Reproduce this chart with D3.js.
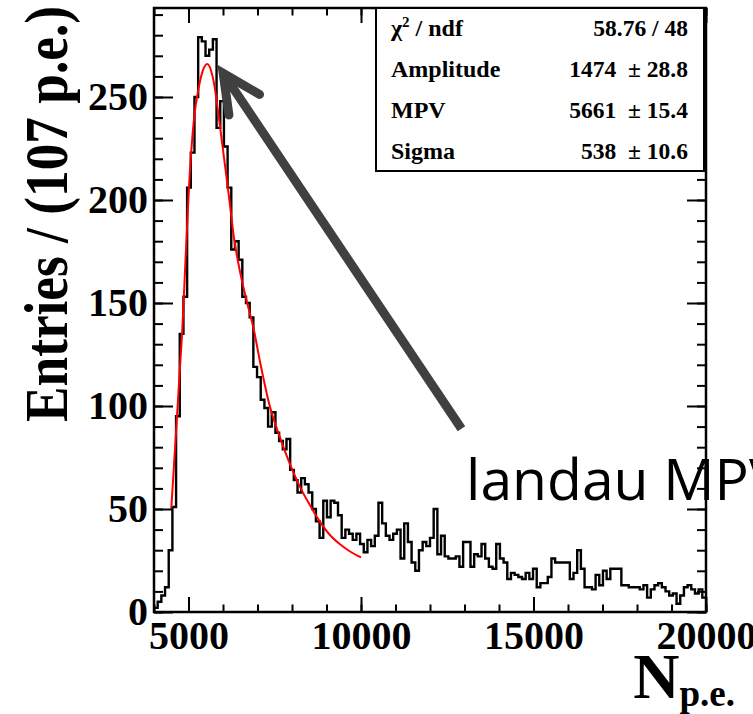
<!DOCTYPE html>
<html>
<head>
<meta charset="utf-8">
<script src="https://cdnjs.cloudflare.com/ajax/libs/d3/7.8.5/d3.min.js"></script>
<style>
  body { margin: 0; background: #fff; }
  svg { display: block; }
  .serif { font-family: "Liberation Serif", "Times New Roman", serif; font-weight: bold; }
</style>
</head>
<body>
<svg id="chart" width="753" height="714"></svg>
<script>
// histogram: 150 bins from 4000 to 20000 p.e.
const xMin = 4000, xMax = 20000;
const counts = [
    2, 5, 8, 12, 30, 51, 95, 135, 153, 206,
    223, 250, 279, 277, 270, 273, 278, 235, 248, 226,
    206, 176, 180, 171, 153, 150, 143, 119, 114, 103,
    99, 90, 97, 87, 83, 79, 84, 69, 64, 58,
    65, 62, 58, 50, 44, 36, 54, 46, 54, 53,
    47, 36, 40, 38, 35, 38, 33, 29, 35, 32,
    37, 53, 43, 37, 35, 38, 40, 26, 43, 34,
    24, 20, 30, 34, 32, 36, 50, 28, 37, 27,
    26, 26, 27, 22, 34, 34, 22, 28, 27, 33,
    26, 22, 21, 33, 26, 24, 16, 19, 18, 17,
    16, 19, 16, 21, 12, 14, 14, 17, 26, 24,
    24, 24, 24, 16, 19, 30, 21, 12, 12, 11,
    18, 13, 20, 16, 21, 21, 21, 13, 13, 12,
    12, 12, 11, 13, 7, 11, 13, 14, 12, 10,
    8, 9, 4, 8, 12, 13, 11, 9, 11, 7
];

// landau fit curve
const fitX = [4500, 4630, 4750, 4820, 4900, 5013, 5157, 5302, 5420, 5543, 5650, 5736, 5881, 6025, 6170,
              6315, 6508, 6701, 6894, 7067, 7356, 7646, 7935, 8224, 8514, 8803, 9093, 9382, 9671, 10000];
const fitY = [50, 85, 118, 137, 166, 206, 239, 255, 263, 266, 263, 257, 240, 221, 202,
              182, 164, 150, 137, 122, 100, 85, 72, 61, 52, 44, 37.5, 33, 29.5, 26.5];

const xTicks = [5000, 10000, 15000, 20000];
const yTicks = [0, 50, 100, 150, 200, 250];

const statNames = ["Amplitude", "MPV", "Sigma"];
const statValues = ["1474", "5661", "538"];
const statErrors = ["28.8", "15.4", "10.6"];
const chi2 = "58.76 / 48";

// annotation arrow (data units): tail -> tip
const arrowTail = [12912, 89];
const arrowTip = [6005, 261.5];

const frame = {left: 154, right: 706, top: 8, bottom: 612};

const svg = d3.select("#chart");

const x = d3.scaleLinear()
    .domain([xMin, xMax])
    .range([frame.left, frame.right]);

const y = d3.scaleLinear()
    .domain([0, 293.2])
    .range([frame.bottom, frame.top]);

// histogram outline
const binW = (xMax - xMin) / counts.length;
const steps = counts.map((c, i) => [xMin + i * binW, c]);
steps.push([xMax, counts[counts.length - 1]]);

svg.append("path")
    .datum(steps)
    .attr("fill", "none")
    .attr("stroke", "black")
    .attr("stroke-width", 2.4)
    .attr("d", d3.line()
        .x(d => x(d[0]))
        .y(d => y(d[1]))
        .curve(d3.curveStepAfter));

// fit
svg.append("path")
    .datum(fitX.map((v, i) => [v, fitY[i]]))
    .attr("fill", "none")
    .attr("stroke", "#ff0000")
    .attr("stroke-width", 2)
    .attr("d", d3.line()
        .x(d => x(d[0]))
        .y(d => y(d[1]))
        .curve(d3.curveMonotoneX));

// axes, ROOT style: ticks inward on all four sides
const xMinor = d3.range(xMin, xMax + 1, 1000);
const yMinor = d3.range(0, 291, 10);

function noLabels(g) { g.selectAll("text").remove(); g.select(".domain").remove(); }

svg.append("g")
    .attr("transform", `translate(0,${frame.bottom})`)
    .call(d3.axisBottom(x).tickValues(xMinor).tickSize(-7.5).tickFormat(""))
    .call(noLabels);
svg.append("g")
    .attr("transform", `translate(0,${frame.bottom})`)
    .call(d3.axisBottom(x).tickValues(xTicks).tickSize(-15).tickPadding(9).tickFormat(d3.format("d")))
    .call(g => g.select(".domain").remove())
    .call(g => g.selectAll("text").attr("class", "serif").attr("font-size", 40).attr("fill", "black"));

svg.append("g")
    .attr("transform", `translate(0,${frame.top})`)
    .call(d3.axisTop(x).tickValues(xMinor).tickSize(-7.5).tickFormat(""))
    .call(noLabels);
svg.append("g")
    .attr("transform", `translate(0,${frame.top})`)
    .call(d3.axisTop(x).tickValues(xTicks).tickSize(-15).tickFormat(""))
    .call(noLabels);

svg.append("g")
    .attr("transform", `translate(${frame.left},0)`)
    .call(d3.axisLeft(y).tickValues(yMinor).tickSize(-9).tickFormat(""))
    .call(noLabels);
svg.append("g")
    .attr("transform", `translate(${frame.left},0)`)
    .call(d3.axisLeft(y).tickValues(yTicks).tickSize(-19).tickPadding(6).tickFormat(d3.format("d")))
    .call(g => g.select(".domain").remove())
    .call(g => g.selectAll("text").attr("class", "serif").attr("font-size", 40).attr("fill", "black"));

svg.append("g")
    .attr("transform", `translate(${frame.right},0)`)
    .call(d3.axisRight(y).tickValues(yMinor).tickSize(-9).tickFormat(""))
    .call(noLabels);
svg.append("g")
    .attr("transform", `translate(${frame.right},0)`)
    .call(d3.axisRight(y).tickValues(yTicks).tickSize(-19).tickFormat(""))
    .call(noLabels);

svg.selectAll(".tick line").attr("stroke", "black").attr("stroke-width", 2);

svg.append("rect")
    .attr("x", frame.left)
    .attr("y", frame.top)
    .attr("width", frame.right - frame.left)
    .attr("height", frame.bottom - frame.top)
    .attr("fill", "none")
    .attr("stroke", "black")
    .attr("stroke-width", 2.5);

// axis titles
svg.append("text")
    .attr("class", "serif")
    .attr("font-size", 62)
    .attr("text-anchor", "end")
    .attr("transform", "translate(67,6) rotate(-90) scale(0.86,1)")
    .text("Entries / (107 p.e.)");

const xt = svg.append("text")
    .attr("class", "serif")
    .attr("text-anchor", "end")
    .attr("x", 735)
    .attr("y", 698);
xt.append("tspan").attr("font-size", 64).text("N");
xt.append("tspan").attr("font-size", 37).attr("dy", 8).text("p.e.");

// stats box
const box = {left: 376, right: 704, top: frame.top, bottom: 171};
const rowH = (box.bottom - box.top) / 4;

svg.append("rect")
    .attr("x", box.left)
    .attr("y", box.top)
    .attr("width", box.right - box.left)
    .attr("height", box.bottom - box.top)
    .attr("fill", "white")
    .attr("stroke", "black")
    .attr("stroke-width", 2);

const rows = [{name: null, value: chi2}].concat(
    statNames.map((n, i) => ({name: n, value: `${statValues[i]}  ± ${statErrors[i]}`})));

rows.forEach((r, i) => {
    const base = box.top + rowH * (i + 0.5) + 8;
    const lab = svg.append("text")
        .attr("class", "serif")
        .attr("font-size", 24)
        .attr("x", 391)
        .attr("y", base);
    if (r.name === null) {
        lab.append("tspan").text("χ");
        lab.append("tspan").attr("font-size", 15).attr("dy", -9).text("2");
        lab.append("tspan").attr("dy", 9).text(" / ndf");
    } else {
        lab.text(r.name);
    }
    svg.append("text")
        .attr("class", "serif")
        .attr("font-size", 23.5)
        .attr("text-anchor", "end")
        .attr("x", 688)
        .attr("y", base)
        .style("white-space", "pre")
        .text(r.value);
});

// annotation
const tip = [x(arrowTip[0]), y(arrowTip[1])];
const tail = [x(arrowTail[0]), y(arrowTail[1])];
const ang = Math.atan2(tail[1] - tip[1], tail[0] - tip[0]);
const headLen = 42, headAng = 26 * Math.PI / 180;
const arms = [ang - headAng, ang + headAng].map(a => [tip[0] + headLen * Math.cos(a), tip[1] + headLen * Math.sin(a)]);

const arrow = svg.append("g")
    .attr("stroke", "#404040")
    .attr("stroke-width", 9)
    .attr("stroke-linecap", "round")
    .attr("fill", "none");
arrow.append("line")
    .attr("x1", tail[0]).attr("y1", tail[1])
    .attr("x2", tip[0]).attr("y2", tip[1])
    .attr("stroke-linecap", "butt");
arrow.append("path")
    .attr("stroke-linejoin", "miter")
    .attr("d", d3.line()([arms[0], tip, arms[1]]));

svg.append("text")
    .attr("x", 466)
    .attr("y", 500)
    .attr("font-family", "'Open Sans', sans-serif")
    .attr("font-size", 57)
    .attr("fill", "black")
    .text("landau MPV");
</script>
</body>
</html>
